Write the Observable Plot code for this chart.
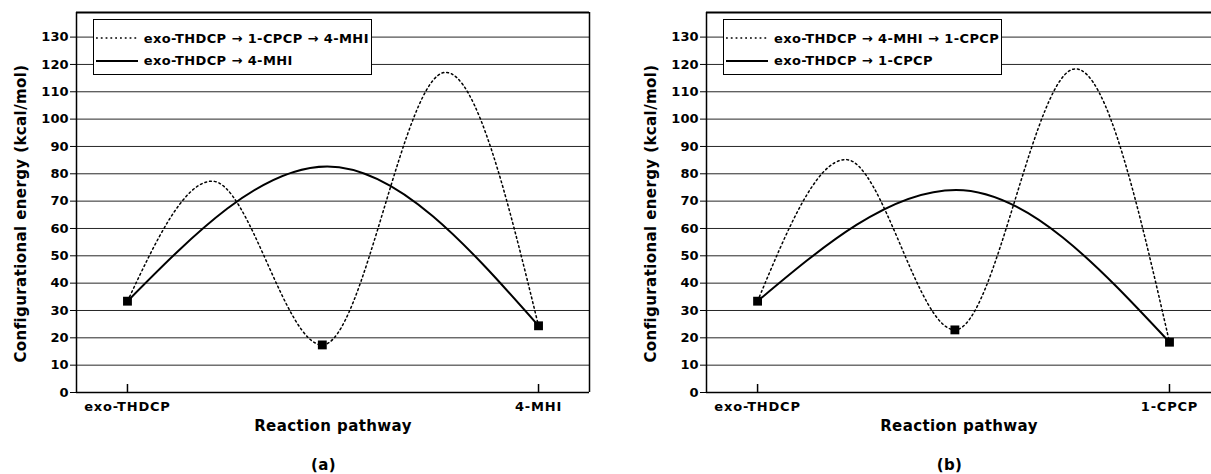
<!DOCTYPE html>
<html><head><meta charset="utf-8">
<script src="https://cdn.jsdelivr.net/npm/d3@7"></script>
<script src="https://cdn.jsdelivr.net/npm/@observablehq/plot@0.6"></script>
<style>
body{margin:0;background:#fff;}
#wrap{position:relative;width:1211px;height:474px;overflow:hidden;font-family:"DejaVu Sans",sans-serif;font-weight:bold;color:#000;}
.panel{position:absolute;top:0;}
.legend{position:absolute;border:1px solid #000;background:#fff;box-sizing:border-box;font-size:13px;letter-spacing:0.4px;}
.legend .row{position:absolute;left:1px;height:16px;display:flex;align-items:center;white-space:nowrap;}
.legend svg{margin-right:6px;}
</style></head><body><div id="wrap"></div><script>
// ---------- data ----------
const yTicks = [0, 10, 20, 30, 40, 50, 60, 70, 80, 90, 100, 110, 120, 130];
const gridTicks = [10, 20, 30, 40, 50, 60, 70, 80, 90, 100, 110, 120, 130];
const yDomain = [0, 139];
const yLabel = "Configurational energy (kcal/mol)";
const xLabel = "Reaction pathway";
const xTickPos = [0, 1];

// panel (a): stationary points along the pathway (reaction coordinate, energy)
const aTickLabels = ["exo-THDCP", "4-MHI"];
const aLegend = ["exo-THDCP \u2192 1-CPCP \u2192 4-MHI", "exo-THDCP \u2192 4-MHI"];
const aDottedX = [0, 0.206, 0.474, 0.774, 1];
const aDottedY = [33.4, 77.3, 17.4, 117.1, 24.4];
const aSolidX = [0, 0.486, 1];
const aSolidY = [33.4, 82.7, 24.4];
const aMarkX = [0, 0.474, 1];
const aMarkY = [33.4, 17.4, 24.4];

// panel (b)
const bTickLabels = ["exo-THDCP", "1-CPCP"];
const bLegend = ["exo-THDCP \u2192 4-MHI \u2192 1-CPCP", "exo-THDCP \u2192 1-CPCP"];
const bDottedX = [0, 0.214, 0.479, 0.772, 1];
const bDottedY = [33.4, 85.2, 22.9, 118.4, 18.4];
const bSolidX = [0, 0.482, 1];
const bSolidY = [33.4, 74.1, 18.4];
const bMarkX = [0, 0.479, 1];
const bMarkY = [33.4, 22.9, 18.4];

// ---------- drawing ----------
const wrap = document.getElementById("wrap");
const zip = (xs, ys) => xs.map((x, i) => ({x, y: ys[i]}));
const DASH = "1.8,3";

function panel(cfg) {
  const div = document.createElement("div");
  div.className = "panel";
  div.style.left = cfg.left + "px";
  const marks = [
    Plot.gridY(gridTicks, {stroke: "black", strokeOpacity: 0.85, strokeWidth: 1}),
    Plot.line(zip(cfg.dx, cfg.dy), {x: "x", y: "y", curve: "monotone-x", stroke: "black", strokeWidth: 1.5, strokeDasharray: DASH}),
    Plot.line(zip(cfg.sx, cfg.sy), {x: "x", y: "y", curve: "monotone-x", stroke: "black", strokeWidth: 2}),
    Plot.dot(zip(cfg.mx, cfg.my), {x: "x", y: "y", symbol: "square", r: 5, fill: "black", stroke: "none"}),
    Plot.ruleX(xTickPos, {stroke: "black", strokeWidth: 1.5, insetTop: 372}),
    Plot.axisY(yTicks, {tickSize: 6, tickPadding: 2, fontSize: 13, label: null, strokeWidth: 1}),
    Plot.axisX(xTickPos, {tickSize: 0, tickPadding: 9, fontSize: 13, label: null, tickFormat: d => cfg.tickLabels[xTickPos.indexOf(d)]}),
    Plot.ruleY([yDomain[1]], {stroke: "black", strokeWidth: 2}),
    Plot.ruleY([0], {stroke: "black", strokeWidth: 1.5}),
    Plot.ruleX([cfg.xDomain[0]], {stroke: "black", strokeWidth: 1.5}),
    Plot.text([xLabel], {frameAnchor: "bottom", lineAnchor: "bottom", dy: 38, fontSize: 15, fontWeight: "bold"}),
    Plot.text([cfg.caption], {frameAnchor: "bottom", lineAnchor: "bottom", dy: 77, dx: -9.5, fontSize: 15, fontWeight: "bold"}),
    Plot.text([yLabel], {frameAnchor: "left", rotate: -90, textAnchor: "middle", lineAnchor: "middle", dx: -55, dy: 11, fontSize: 15, fontWeight: "bold"})
  ];
  if (cfg.rightBorder) marks.push(Plot.ruleX([cfg.xDomain[1]], {stroke: "black", strokeWidth: 1.5}));
  const svg = Plot.plot({
    width: cfg.width, height: 474,
    marginLeft: cfg.marginLeft, marginRight: cfg.marginRight, marginTop: 12, marginBottom: 82,
    x: {domain: cfg.xDomain},
    y: {domain: yDomain},
    style: {fontFamily: "DejaVu Sans", fontWeight: "bold", fontSize: "13px", color: "black", background: "transparent", overflow: "visible"},
    marks
  });
  d3.select(svg).selectAll("g[aria-label='x-axis tick label'] text").style("letter-spacing", "0.8px");
  d3.select(svg).selectAll("g[aria-label='text'] text").style("letter-spacing", "0.4px");
  div.appendChild(svg);
  // legend
  const lg = document.createElement("div");
  lg.className = "legend";
  lg.style.left = cfg.legendLeft + "px";
  lg.style.top = "19px";
  lg.style.width = "279px";
  lg.style.height = "56px";
  const tops = [10, 32.5];
  cfg.legend.forEach((t, i) => {
    const row = document.createElement("div");
    row.className = "row";
    row.style.top = tops[i] + "px";
    const dash = i === 0 ? ` stroke-dasharray="${DASH}" stroke-width="1.5"` : ` stroke-width="2"`;
    row.innerHTML = `<svg width="43" height="16"><line x1="1" x2="43" y1="8" y2="8" stroke="black"${dash}/></svg><span>${t}</span>`;
    lg.appendChild(row);
  });
  div.appendChild(lg);
  wrap.appendChild(div);
}

panel({left: 0, width: 600, marginLeft: 76, marginRight: 11, xDomain: [-0.124, 1.124], rightBorder: true,
  dx: aDottedX, dy: aDottedY, sx: aSolidX, sy: aSolidY, mx: aMarkX, my: aMarkY,
  tickLabels: aTickLabels, legend: aLegend, caption: "(a)", legendLeft: 92.7});
panel({left: 600, width: 611, marginLeft: 106, marginRight: 0, xDomain: [-0.124, 1.102], rightBorder: false,
  dx: bDottedX, dy: bDottedY, sx: bSolidX, sy: bSolidY, mx: bMarkX, my: bMarkY,
  tickLabels: bTickLabels, legend: bLegend, caption: "(b)", legendLeft: 123});
</script></body></html>
